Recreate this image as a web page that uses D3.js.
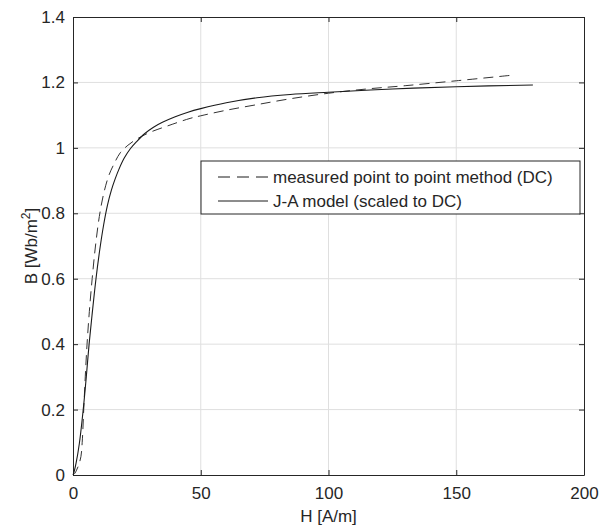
<!DOCTYPE html>
<html>
<head>
<meta charset="utf-8">
<script src="https://cdn.jsdelivr.net/npm/d3@7"></script>
<style>
  body { margin: 0; background: #fff; }
  text { font-family: Arial, "Liberation Sans", Helvetica, sans-serif; fill: #262626; }
</style>
</head>
<body>
<div class="chart"></div>
<script>
// measured point to point method (DC)
var hMeasured = [0, 0.7, 1.4, 2.2, 3.1, 3.6, 4.2, 4.8, 5.5, 6.4, 7.5, 8.8, 10.3, 12, 14, 16, 18.5, 21.5, 25, 30, 37, 45.8, 50, 60, 71.9, 85, 100, 115, 130, 150, 173];
var bMeasured = [0, 0.005, 0.015, 0.03, 0.056, 0.1, 0.2, 0.3, 0.4, 0.5, 0.6, 0.7, 0.79, 0.86, 0.915, 0.95, 0.985, 1.008, 1.027, 1.047, 1.067, 1.09, 1.098, 1.115, 1.132, 1.15, 1.167, 1.18, 1.19, 1.205, 1.223];

// J-A model (scaled to DC)
var hModel = [0, 0.5, 1.2, 2.5, 4.0, 5.2, 6.3, 7.6, 9.0, 10.5, 12, 13.5, 15, 16.5, 18, 20, 22.5, 25, 28, 31.5, 35, 40, 45, 50, 60, 72, 85, 100, 125, 150, 180];
var bModel = [0, 0.012, 0.036, 0.097, 0.2, 0.3, 0.4, 0.5, 0.6, 0.69, 0.765, 0.825, 0.87, 0.905, 0.935, 0.968, 0.998, 1.02, 1.043, 1.063, 1.078, 1.095, 1.109, 1.12, 1.138, 1.153, 1.163, 1.17, 1.18, 1.187, 1.192];

var xTicks = [0, 50, 100, 150, 200];
var yTicks = [0, 0.2, 0.4, 0.6, 0.8, 1, 1.2, 1.4];
var legendLabels = ["measured point to point method (DC)", "J-A model (scaled to DC)"];

var svgWidth = 600;
var svgHeight = 532;

var margin = {
    top: 17,
    right: 16,
    bottom: 57,
    left: 73
};

var width = svgWidth - margin.left - margin.right;
var height = svgHeight - margin.top - margin.bottom;

var axisColor = "#262626";
var gridColor = "#dfdfdf";

var svg = d3
    .select(".chart")
    .append("svg")
    .attr("width", svgWidth)
    .attr("height", svgHeight);

var chartGroup = svg.append("g")
    .attr("transform", `translate(${margin.left}, ${margin.top})`);

var xLinearScale = d3.scaleLinear()
    .domain([0, 200])
    .range([0, width]);

var yLinearScale = d3.scaleLinear()
    .domain([0, 1.4])
    .range([height, 0]);

// grid
chartGroup.append("g")
    .selectAll("line")
    .data(xTicks.slice(1, -1))
    .enter()
    .append("line")
    .attr("x1", d => xLinearScale(d))
    .attr("x2", d => xLinearScale(d))
    .attr("y1", 0)
    .attr("y2", height)
    .attr("stroke", gridColor)
    .attr("stroke-width", 1);

chartGroup.append("g")
    .selectAll("line")
    .data(yTicks.slice(1, -1))
    .enter()
    .append("line")
    .attr("x1", 0)
    .attr("x2", width)
    .attr("y1", d => yLinearScale(d))
    .attr("y2", d => yLinearScale(d))
    .attr("stroke", gridColor)
    .attr("stroke-width", 1);

// axes, ticks point inward on all four sides
function styleAxis(g) {
    g.select(".domain").attr("stroke", axisColor);
    g.selectAll(".tick line").attr("stroke", axisColor);
    g.selectAll(".tick text")
        .style("font-size", "17px")
        .attr("fill", axisColor);
}

var bottomAxis = d3.axisBottom(xLinearScale)
    .tickValues(xTicks)
    .tickFormat(d3.format("d"))
    .tickSizeInner(-5)
    .tickSizeOuter(0)
    .tickPadding(12);

var leftAxis = d3.axisLeft(yLinearScale)
    .tickValues(yTicks)
    .tickFormat(d => d3.format("")(+d.toFixed(1)))
    .tickSizeInner(-5)
    .tickSizeOuter(0)
    .tickPadding(8);

chartGroup.append("g")
    .attr("transform", `translate(0, ${height})`)
    .call(bottomAxis)
    .call(styleAxis);

chartGroup.append("g")
    .call(leftAxis)
    .call(styleAxis);

chartGroup.append("g")
    .call(d3.axisTop(xLinearScale).tickValues(xTicks).tickSizeInner(-5).tickSizeOuter(0).tickFormat(""))
    .call(styleAxis);

chartGroup.append("g")
    .attr("transform", `translate(${width}, 0)`)
    .call(d3.axisRight(yLinearScale).tickValues(yTicks).tickSizeInner(-5).tickSizeOuter(0).tickFormat(""))
    .call(styleAxis);

// curves
var line = d3.line()
    .x(d => xLinearScale(d[0]))
    .y(d => yLinearScale(d[1]))
    .curve(d3.curveCatmullRom.alpha(0.5));

chartGroup.append("path")
    .datum(d3.zip(hMeasured, bMeasured))
    .attr("d", line)
    .attr("fill", "none")
    .attr("stroke", "#333")
    .attr("stroke-width", 1)
    .attr("stroke-dasharray", "10,6");

chartGroup.append("path")
    .datum(d3.zip(hModel, bModel))
    .attr("d", line)
    .attr("fill", "none")
    .attr("stroke", "#1a1a1a")
    .attr("stroke-width", 1.1);

// axis labels
chartGroup.append("text")
    .attr("x", width / 2)
    .attr("y", height + 47)
    .attr("text-anchor", "middle")
    .style("font-size", "17px")
    .text("H [A/m]");

var yLabel = chartGroup.append("text")
    .attr("transform", "rotate(-90)")
    .attr("x", 0 - (height / 2))
    .attr("y", 37 - margin.left)
    .attr("text-anchor", "middle")
    .style("font-size", "17px");
yLabel.append("tspan").text("B [Wb/m");
yLabel.append("tspan").attr("dy", -7).style("font-size", "12px").text("2");
yLabel.append("tspan").attr("dy", 7).text("]");

// legend
var legend = svg.append("g")
    .attr("transform", "translate(201, 161)");

legend.append("rect")
    .attr("x", 0)
    .attr("y", 0)
    .attr("width", 379)
    .attr("height", 53)
    .attr("fill", "#fff")
    .attr("stroke", axisColor)
    .attr("stroke-width", 1);

var rows = legend.selectAll(".row")
    .data(legendLabels)
    .enter()
    .append("g")
    .attr("transform", (d, i) => `translate(0, ${16 + i * 24})`);

rows.append("line")
    .attr("x1", 17)
    .attr("x2", 67)
    .attr("y1", 0)
    .attr("y2", 0)
    .attr("stroke", "#1a1a1a")
    .attr("stroke-width", 1)
    .attr("stroke-dasharray", (d, i) => i === 0 ? "12,7" : null);

rows.append("text")
    .attr("x", 72)
    .attr("y", 5.5)
    .style("font-size", "17px")
    .text(d => d);
</script>
</body>
</html>
